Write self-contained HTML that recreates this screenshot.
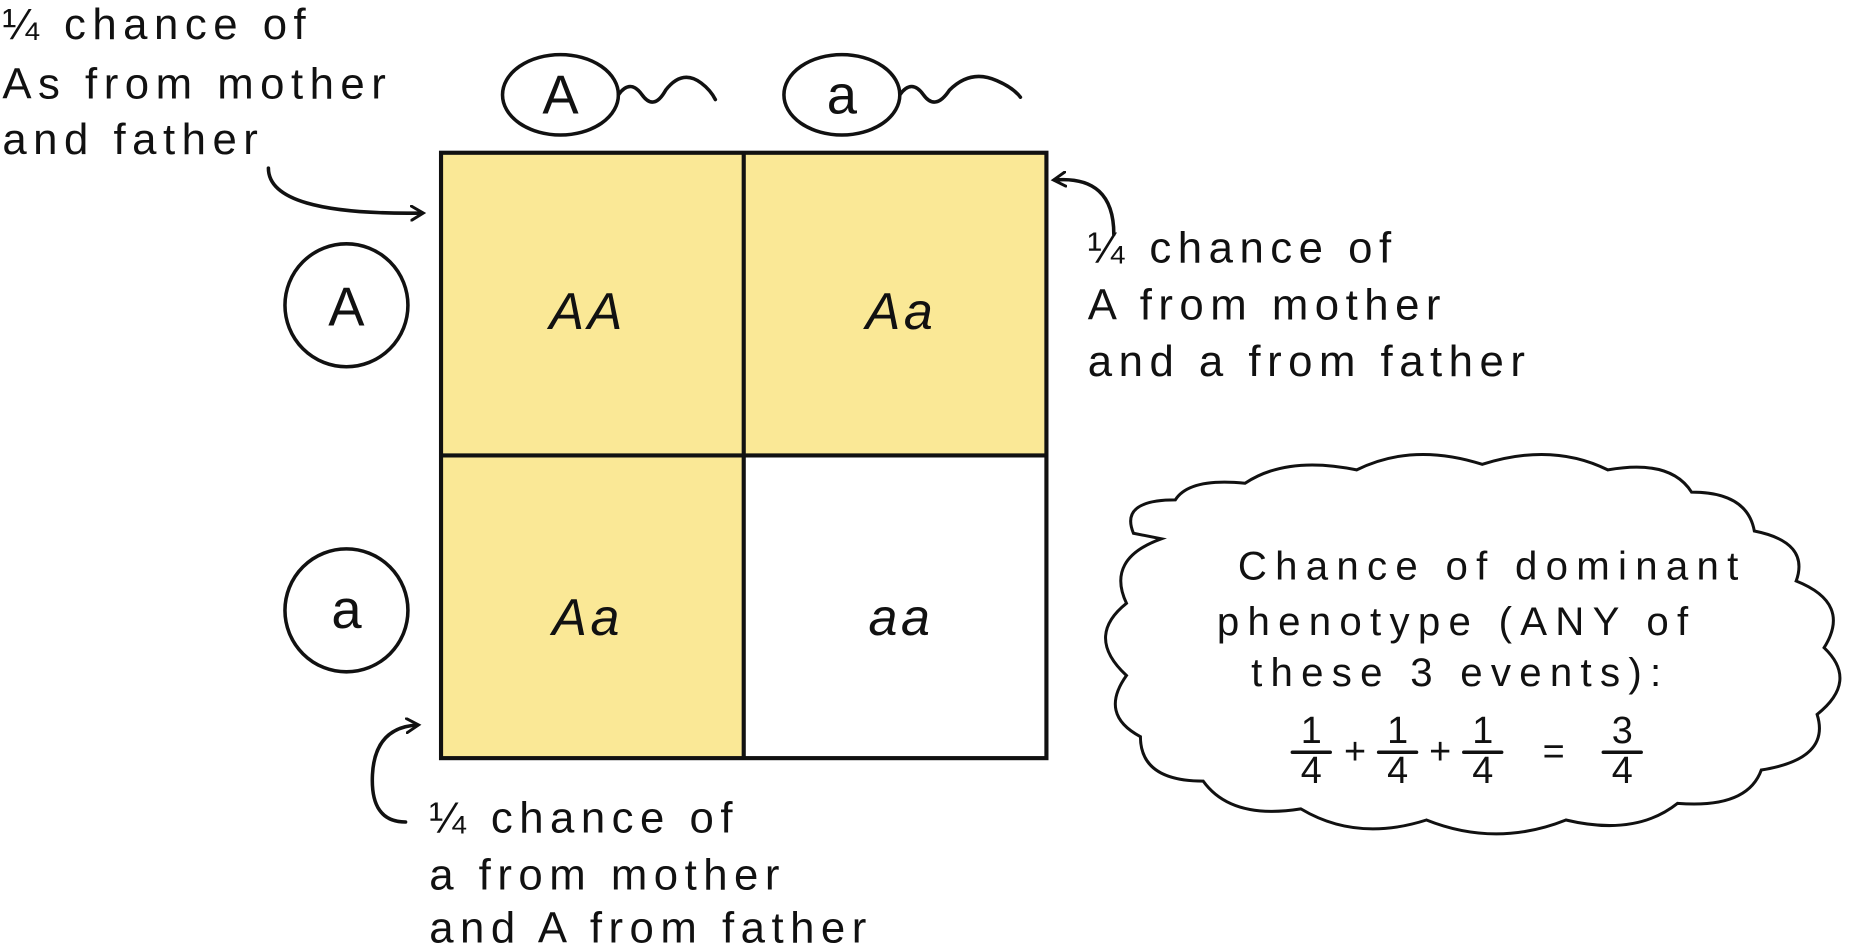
<!DOCTYPE html>
<html><head><meta charset="utf-8"><style>
html,body{margin:0;padding:0;background:#fff;}
svg{display:block}
text{font-family:"Liberation Sans",sans-serif;fill:#111;}
</style></head><body>
<svg width="1854" height="944" viewBox="0 0 1568 798" xmlns="http://www.w3.org/2000/svg">
<defs><marker id="ah" markerWidth="14" markerHeight="14" refX="10" refY="7" orient="auto" markerUnits="userSpaceOnUse"><path d="M1,1 L11,7 L1,13" fill="none" stroke="#111" stroke-width="2.5" stroke-linecap="round"/></marker></defs>
<rect x="373" y="129" width="256" height="512" fill="#fae896"/>
<rect x="629" y="129" width="256" height="256" fill="#fae896"/>
<rect x="373" y="129" width="512" height="512" fill="none" stroke="#111" stroke-width="3.5"/>
<line x1="629" y1="129" x2="629" y2="641" stroke="#111" stroke-width="3.5"/>
<line x1="373" y1="385" x2="885" y2="385" stroke="#111" stroke-width="3.5"/>
<g font-size="44" text-anchor="middle" font-style="italic" letter-spacing="3">
<text x="497" y="278">AA</text><text x="762" y="278">Aa</text>
<text x="497" y="537">Aa</text><text x="762" y="537">aa</text>
</g>
<g fill="none" stroke="#111" stroke-width="3" stroke-linecap="round">
<ellipse cx="474" cy="80" rx="49" ry="34"/>
<ellipse cx="712" cy="80" rx="49" ry="34"/>
<circle cx="293" cy="258" r="52"/>
<circle cx="293" cy="516" r="52"/>
<path d="M523,80 q10,-14 20,0 q10,14 20,-4 q14,-18 30,-6 q8,6 12,14"/>
<path d="M761,80 q10,-14 20,0 q10,14 22,-4 q18,-18 40,-8 q14,6 20,14"/>
<path d="M227,142 q0,40 130,38" marker-end="url(#ah)"/>
<path d="M942,198 q0,-50 -50,-46" marker-end="url(#ah)"/>
<path d="M343,695 q-30,0 -28,-40 q2,-40 38,-42" marker-end="url(#ah)"/>
<path transform="translate(935,385) scale(1.18,0.94) translate(-945,-350)" vector-effect="non-scaling-stroke" d="M965,420 q-10,-30 30,-30 q10,-20 50,-15 q30,-25 80,-12 q40,-25 90,-5 q50,-20 90,5 q45,-10 60,20 q40,0 45,35 q40,10 30,45 q40,20 20,60 q25,30 -5,60 q10,40 -40,50 q-10,35 -60,30 q-30,30 -80,15 q-50,25 -100,0 q-50,20 -90,-10 q-50,10 -70,-25 q-45,0 -45,-40 q-30,-20 -10,-55 q-30,-35 0,-65 q-15,-40 25,-58 z"/>
<line x1="1093" y1="636" x2="1125" y2="636"/><line x1="1166" y1="636" x2="1198" y2="636"/><line x1="1238" y1="636" x2="1270" y2="636"/><line x1="1356" y1="636" x2="1388" y2="636"/>
</g>
<g font-size="46" text-anchor="middle">
<text x="474" y="96">A</text><text x="712" y="96">a</text>
<text x="293" y="275">A</text><text x="293" y="531">a</text>
</g>
<g font-size="37" letter-spacing="5.5">
<text x="2" y="33">¼ chance of</text>
<text x="2" y="83">As from mother</text>
<text x="2" y="130">and father</text>
<text x="920" y="222">¼ chance of</text>
<text x="920" y="270">A from mother</text>
<text x="920" y="318">and a from father</text>
<text x="363" y="704">¼ chance of</text>
<text x="363" y="752">a from mother</text>
<text x="363" y="797">and A from father</text>
</g>
<g font-size="34" text-anchor="middle" letter-spacing="7">
<text x="1262" y="490">Chance of dominant</text>
<text x="1232" y="537">phenotype (ANY of</text>
<text x="1235" y="580">these  3 events):</text>
</g>
<g font-size="32" text-anchor="middle">
<text x="1109" y="628">1</text><text x="1109" y="662">4</text>
<text x="1182" y="628">1</text><text x="1182" y="662">4</text>
<text x="1254" y="628">1</text><text x="1254" y="662">4</text>
<text x="1372" y="628">3</text><text x="1372" y="662">4</text>
<text x="1146" y="646">+</text><text x="1218" y="646">+</text><text x="1314" y="646">=</text>
</g>
</svg>
</body></html>
